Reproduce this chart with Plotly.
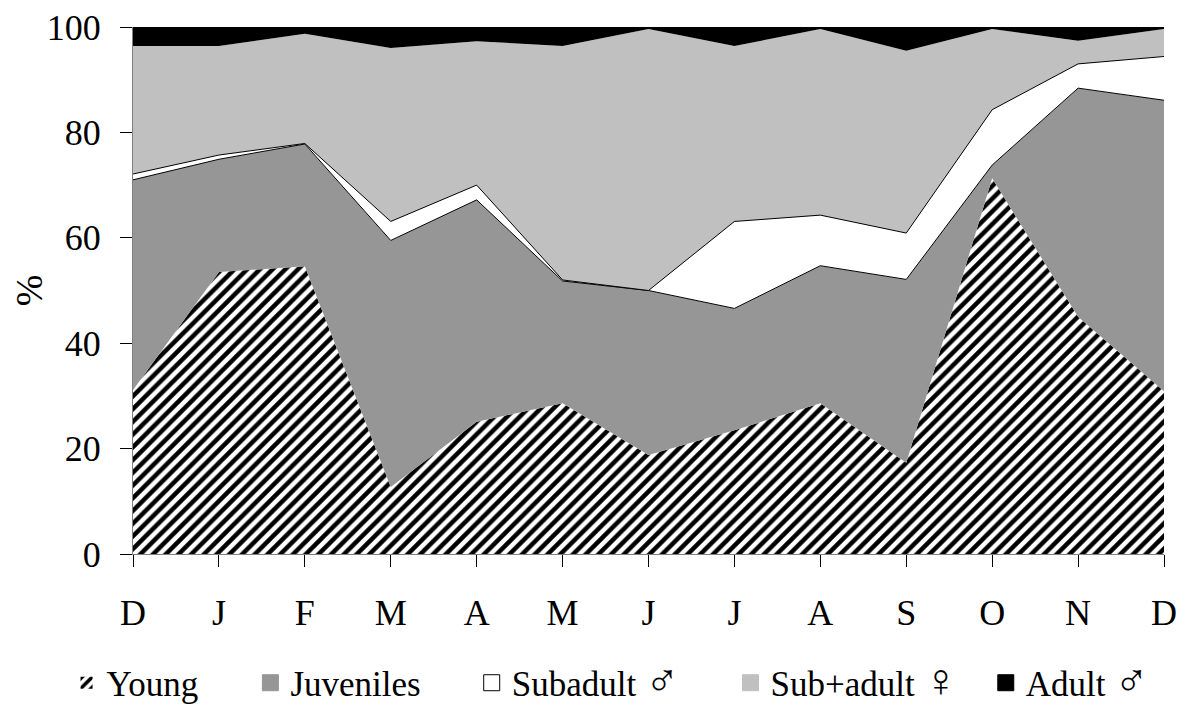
import plotly.graph_objects as go

months = ["D", "J", "F", "M", "A", "M", "J", "J", "A", "S", "O", "N", "D"]
young = [31.1, 53.5, 54.6, 12.7, 25.1, 28.6, 18.8, 23.5, 28.6, 17.3, 71.3, 45.0, 30.9]
juveniles = [39.9, 21.4, 23.2, 46.8, 42.1, 23.2, 31.2, 23.1, 26.1, 34.8, 2.5, 43.4, 55.2]
subadult_m = [1.1, 0.8, 0.1, 3.6, 2.8, 0.2, 0.0, 16.5, 9.6, 8.8, 10.5, 4.6, 8.3]
subadult_f = [24.3, 20.7, 20.8, 32.9, 27.3, 44.4, 49.6, 33.3, 35.3, 34.6, 15.3, 4.4, 5.2]
adult_m = [3.6, 3.6, 1.3, 4.0, 2.7, 3.6, 0.4, 3.6, 0.4, 4.5, 0.4, 2.6, 0.4]
yticks = [0, 20, 40, 60, 80, 100]
series_names = ["Young", "Juveniles", "Subadult ♂", "Sub+adult ♀", "Adult ♂"]

xs = list(range(len(months)))
FONT = "Liberation Serif, Times New Roman, serif"

HATCH = dict(shape="/", fgcolor="black", bgcolor="white", size=9, solidity=0.5, fgopacity=1)


def legend_label(name):
    # draw the sex symbols larger, as in the reference
    for sym in ("♂", "♀"):
        name = name.replace(sym, '<span style="font-size:46px">' + sym + "</span>")
    return name


fig = go.Figure()
fig.add_trace(go.Scatter(
    x=xs, y=young, name=series_names[0], stackgroup="one", mode="lines",
    line=dict(width=0, color="black"), fillcolor="white", fillpattern=HATCH, showlegend=False,
))
fig.add_trace(go.Scatter(
    x=xs, y=juveniles, name=series_names[1], stackgroup="one", mode="lines",
    line=dict(width=1, color="black"), fillcolor="#969696", showlegend=False,
))
fig.add_trace(go.Scatter(
    x=xs, y=subadult_m, name=series_names[2], stackgroup="one", mode="lines",
    line=dict(width=1, color="black"), fillcolor="white", showlegend=False,
))
fig.add_trace(go.Scatter(
    x=xs, y=subadult_f, name=series_names[3], stackgroup="one", mode="lines",
    line=dict(width=0, color="#c0c0c0"), fillcolor="#c0c0c0", showlegend=False,
))
fig.add_trace(go.Scatter(
    x=xs, y=adult_m, name=series_names[4], stackgroup="one", mode="lines",
    line=dict(width=0, color="black"), fillcolor="black", showlegend=False,
))

# legend entries, each in its own legend box so the spacing matches the reference
legend_ids = ["legend", "legend2", "legend3", "legend4", "legend5"]
legend_x = [0.050, 0.207, 0.396, 0.617, 0.835]

fig.add_trace(go.Bar(
    x=[None], y=[None], name=legend_label(series_names[0]), legend=legend_ids[0],
    marker=dict(color="white", pattern=HATCH, line=dict(width=0)),
))
legend_styles = [
    ("#969696", "#969696"),
    ("white", "black"),
    ("#c0c0c0", "#c0c0c0"),
    ("black", "black"),
]
for nm, lid, (fc, lc) in zip(series_names[1:], legend_ids[1:], legend_styles):
    fig.add_trace(go.Scatter(
        x=[None], y=[None], name=legend_label(nm), mode="markers", legend=lid,
        marker=dict(symbol="square", size=20, color=fc, line=dict(color=lc, width=1)),
    ))

legend_common = dict(
    orientation="h", xref="container", yref="container",
    y=0.052, xanchor="left", yanchor="middle",
    font=dict(size=35), itemwidth=30, bgcolor="rgba(0,0,0,0)",
)

# the page body has an 8px margin, so the figure is sized/offset to compensate
layout_kwargs = dict(
    width=1171, height=712,
    margin=dict(l=125, r=15, t=19, b=166),
    plot_bgcolor="white", paper_bgcolor="white",
    font=dict(family=FONT, size=36, color="black"),
    showlegend=True,
    xaxis=dict(
        range=[0, 12], tickvals=xs, ticktext=months, automargin=False,
        showgrid=False, zeroline=False, showline=True, linecolor="#808080",
        ticks="outside", ticklen=12, tickcolor="black", ticklabelstandoff=15,
        ticklabeloverflow="allow",
    ),
    yaxis=dict(
        range=[0, 100], tickvals=yticks, automargin=False,
        showgrid=False, zeroline=False, showline=True, linecolor="#808080",
        ticks="outside", ticklen=12, tickcolor="black", ticklabelstandoff=12,
        ticklabeloverflow="allow",
        title=dict(text="%", font=dict(size=38), standoff=10),
    ),
)
for lid, lx in zip(legend_ids, legend_x):
    layout_kwargs[lid] = dict(legend_common, x=lx)

fig.update_layout(**layout_kwargs)

fig.write_html("out.html")
